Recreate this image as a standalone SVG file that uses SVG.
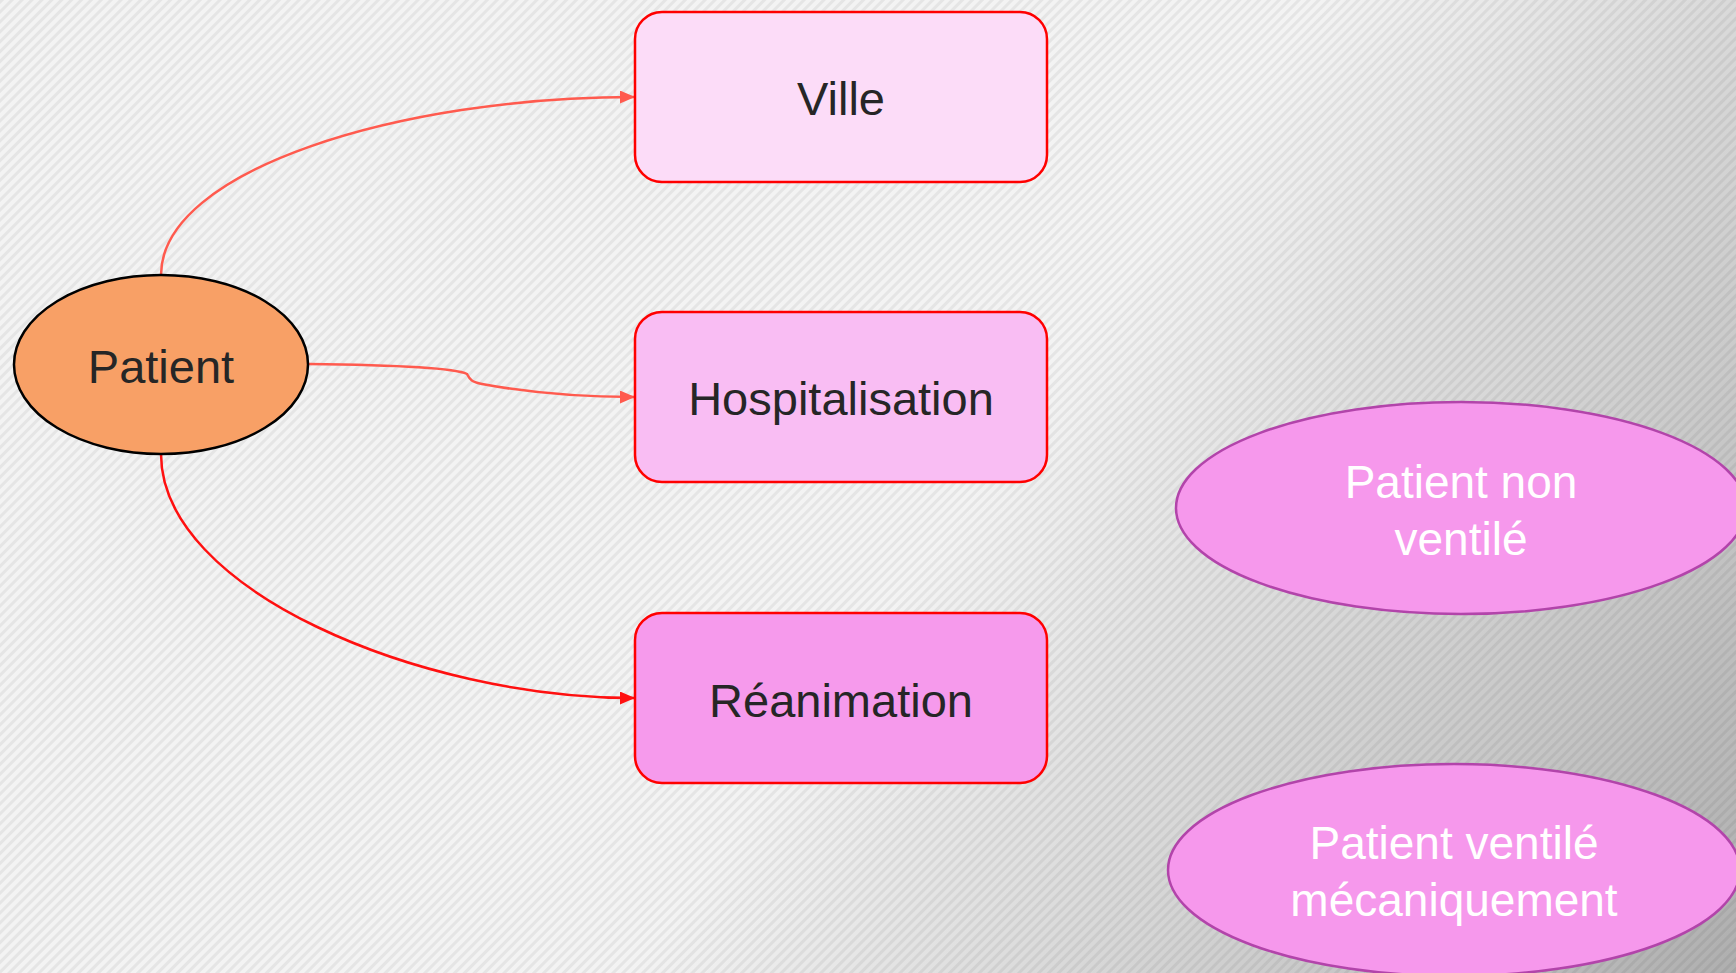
<svg xmlns="http://www.w3.org/2000/svg" width="1736" height="973" viewBox="0 0 1736 973">
<defs>
<pattern id="stripes" patternUnits="userSpaceOnUse" width="7" height="7" patternTransform="rotate(45)">
<rect width="7" height="7" fill="#f3f3f3"/>
<rect width="3" height="7" fill="#e5e5e5"/>
</pattern>
<linearGradient id="shade" gradientUnits="userSpaceOnUse" x1="1000" y1="450" x2="1736" y2="973">
<stop offset="0" stop-color="#000" stop-opacity="0"/>
<stop offset="1" stop-color="#000" stop-opacity="0.28"/>
</linearGradient>
<marker id="arrS" markerWidth="15" markerHeight="13" refX="14" refY="6.5" orient="auto" markerUnits="userSpaceOnUse" viewBox="0 0 15 13">
<path d="M0,0 L15,6.5 L0,13 z" fill="#ff5a4e"/>
</marker>
<marker id="arrR" markerWidth="15" markerHeight="13" refX="14" refY="6.5" orient="auto" markerUnits="userSpaceOnUse" viewBox="0 0 15 13">
<path d="M0,0 L15,6.5 L0,13 z" fill="#ff1010"/>
</marker>
</defs>
<style>
.box{stroke:#ff0000;stroke-width:2.5}
.lbl{font-family:"Liberation Sans",Arial,sans-serif;font-size:47px;fill:#262626;text-anchor:middle}
.wl{font-family:"Liberation Sans",Arial,sans-serif;font-size:46px;fill:#ffffff;text-anchor:middle}
.pe{fill:#f698ec;stroke:#b244aa;stroke-width:2.5}
.conn{fill:none;stroke-width:2.5}
</style>
<rect width="1736" height="973" fill="url(#stripes)"/>
<rect width="1736" height="973" fill="url(#shade)"/>
<g id="connectors">
<path class="conn" stroke="#ff5a4e" marker-end="url(#arrS)" d="M161,275 C161,170 400,97 634,97"/>
<path class="conn" stroke="#ff5a4e" marker-end="url(#arrS)" d="M308,364 C400,365 455,368 467,374 C470,380 472,382 482,384 C525,392 580,397 634,397"/>
<path class="conn" stroke="#ff1010" marker-end="url(#arrR)" d="M161,454 C161,590 420,698 634,698"/>
</g>
<g id="patient">
<ellipse cx="161" cy="364.5" rx="147" ry="89.5" fill="#f8a066" stroke="#000" stroke-width="2.5"/>
<text class="lbl" x="161" y="383">Patient</text>
</g>
<g id="ville">
<rect class="box" x="635" y="12" width="412" height="170" rx="27" fill="#fcdcf8"/>
<text class="lbl" x="841" y="115">Ville</text>
</g>
<g id="hospitalisation">
<rect class="box" x="635" y="312" width="412" height="170" rx="27" fill="#f9bdf3"/>
<text class="lbl" x="841" y="415">Hospitalisation</text>
</g>
<g id="reanimation">
<rect class="box" x="635" y="613" width="412" height="170" rx="27" fill="#f69aec"/>
<text class="lbl" x="841" y="717">Réanimation</text>
</g>
<g id="non-ventile">
<ellipse class="pe" cx="1461" cy="508" rx="285" ry="106"/>
<text class="wl" x="1461" y="498">Patient non</text>
<text class="wl" x="1461" y="555">ventilé</text>
</g>
<g id="ventile">
<ellipse class="pe" cx="1454" cy="870" rx="286" ry="106"/>
<text class="wl" x="1454" y="859">Patient ventilé</text>
<text class="wl" x="1454" y="916">mécaniquement</text>
</g>
</svg>
